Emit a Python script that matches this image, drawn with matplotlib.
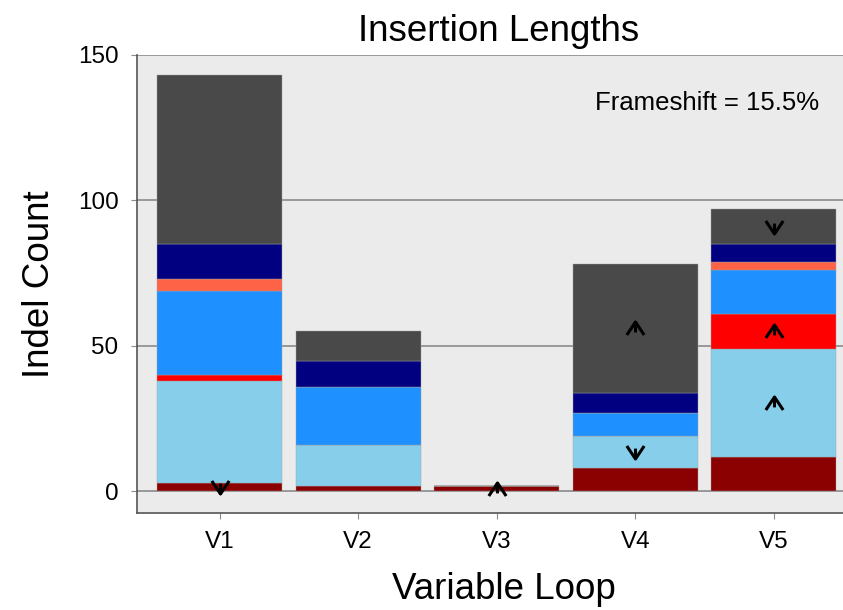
import numpy as np
import matplotlib.pyplot as plt
from matplotlib.path import Path

plt.rcParams['font.family'] = ['Liberation Sans', 'DejaVu Sans']

# data
loops = ['V1', 'V2', 'V3', 'V4', 'V5']
darkred = [3, 2, 2, 8, 12]
skyblue = [35, 14, 0, 11, 37]
red = [2, 0, 0, 0, 12]
dodgerblue = [29, 20, 0, 8, 15]
tomato = [4, 0, 0, 0, 3]
navy = [12, 9, 0, 7, 6]
grey = [58, 10, 0, 44, 12]
segments = [darkred, skyblue, red, dodgerblue, tomato, navy, grey]
colors = ['#8b0000', '#87ceeb', '#ff0000', '#1e90ff', '#ff6347', '#000080', '#494949']
# significance arrows: (loop index, segment index, direction)
arrows = [(0, 0, 'down'), (2, 0, 'up'), (3, 1, 'down'), (3, 6, 'up'),
          (4, 1, 'up'), (4, 2, 'up'), (4, 6, 'down')]
frameshift = 15.5

up = Path([(-1, -0.75), (0, 0.75), (1, -0.75), (0, 0.75), (0, -0.45)],
          [Path.MOVETO, Path.LINETO, Path.LINETO, Path.MOVETO, Path.LINETO])
down = Path([(-1, 0.75), (0, -0.75), (1, 0.75), (0, -0.75), (0, 0.45)],
            [Path.MOVETO, Path.LINETO, Path.LINETO, Path.MOVETO, Path.LINETO])

fig = plt.figure(figsize=(8.43, 6.10), dpi=100)
ax = fig.add_axes([0.162, 0.159, 0.838, 0.751])
ax.set_facecolor('#ebebeb')

x = np.arange(len(loops))
bottom = np.zeros(len(loops))
bottoms = []
for vals, c in zip(segments, colors):
    vals = np.array(vals, dtype=float)
    ax.bar(x, vals, 0.9, bottom=bottom, color=c, edgecolor='#a0a0a0',
           linewidth=0.3, zorder=3)
    bottoms.append(bottom.copy())
    bottom = bottom + vals

for i, s, d in arrows:
    yy = bottoms[s][i] + segments[s][i] / 2.0
    ax.plot(x[i], yy, marker=up if d == 'up' else down, markersize=12.5,
            markerfacecolor='none', markeredgecolor='black',
            markeredgewidth=2.2, linestyle='none', zorder=4)

ax.set_xlim(-0.6, 4.5)
ax.set_ylim(-7.4, 150)
ax.set_yticks([0, 50, 100, 150])
ax.set_xticks(x)
ax.set_xticklabels(loops)
ax.yaxis.grid(True, color='#8a8a8a', linewidth=1.2, zorder=1)
ax.set_axisbelow(True)
for sp in ['top', 'right']:
    ax.spines[sp].set_visible(False)
ax.spines['left'].set_color('#555555')
ax.spines['bottom'].set_color('#555555')
ax.spines['left'].set_linewidth(1.2)
ax.spines['bottom'].set_linewidth(1.2)
ax.tick_params(axis='both', colors='#8a8a8a', labelcolor='black',
               labelsize=17.5, length=4, pad=9)

ax.set_title('Insertion Lengths', fontsize=26.5, x=0.512, pad=10)
ax.set_xlabel('Variable Loop', fontsize=26.5)
ax.xaxis.set_label_coords(0.52, -0.128)
ax.set_ylabel('Indel Count', fontsize=26.5, labelpad=15)
ax.text(0.966, 131.1, 'Frameshift = %.1f%%' % frameshift, fontsize=18.5,
        ha='right', va='baseline', transform=ax.get_yaxis_transform())

fig.savefig('out.png', dpi=100)
